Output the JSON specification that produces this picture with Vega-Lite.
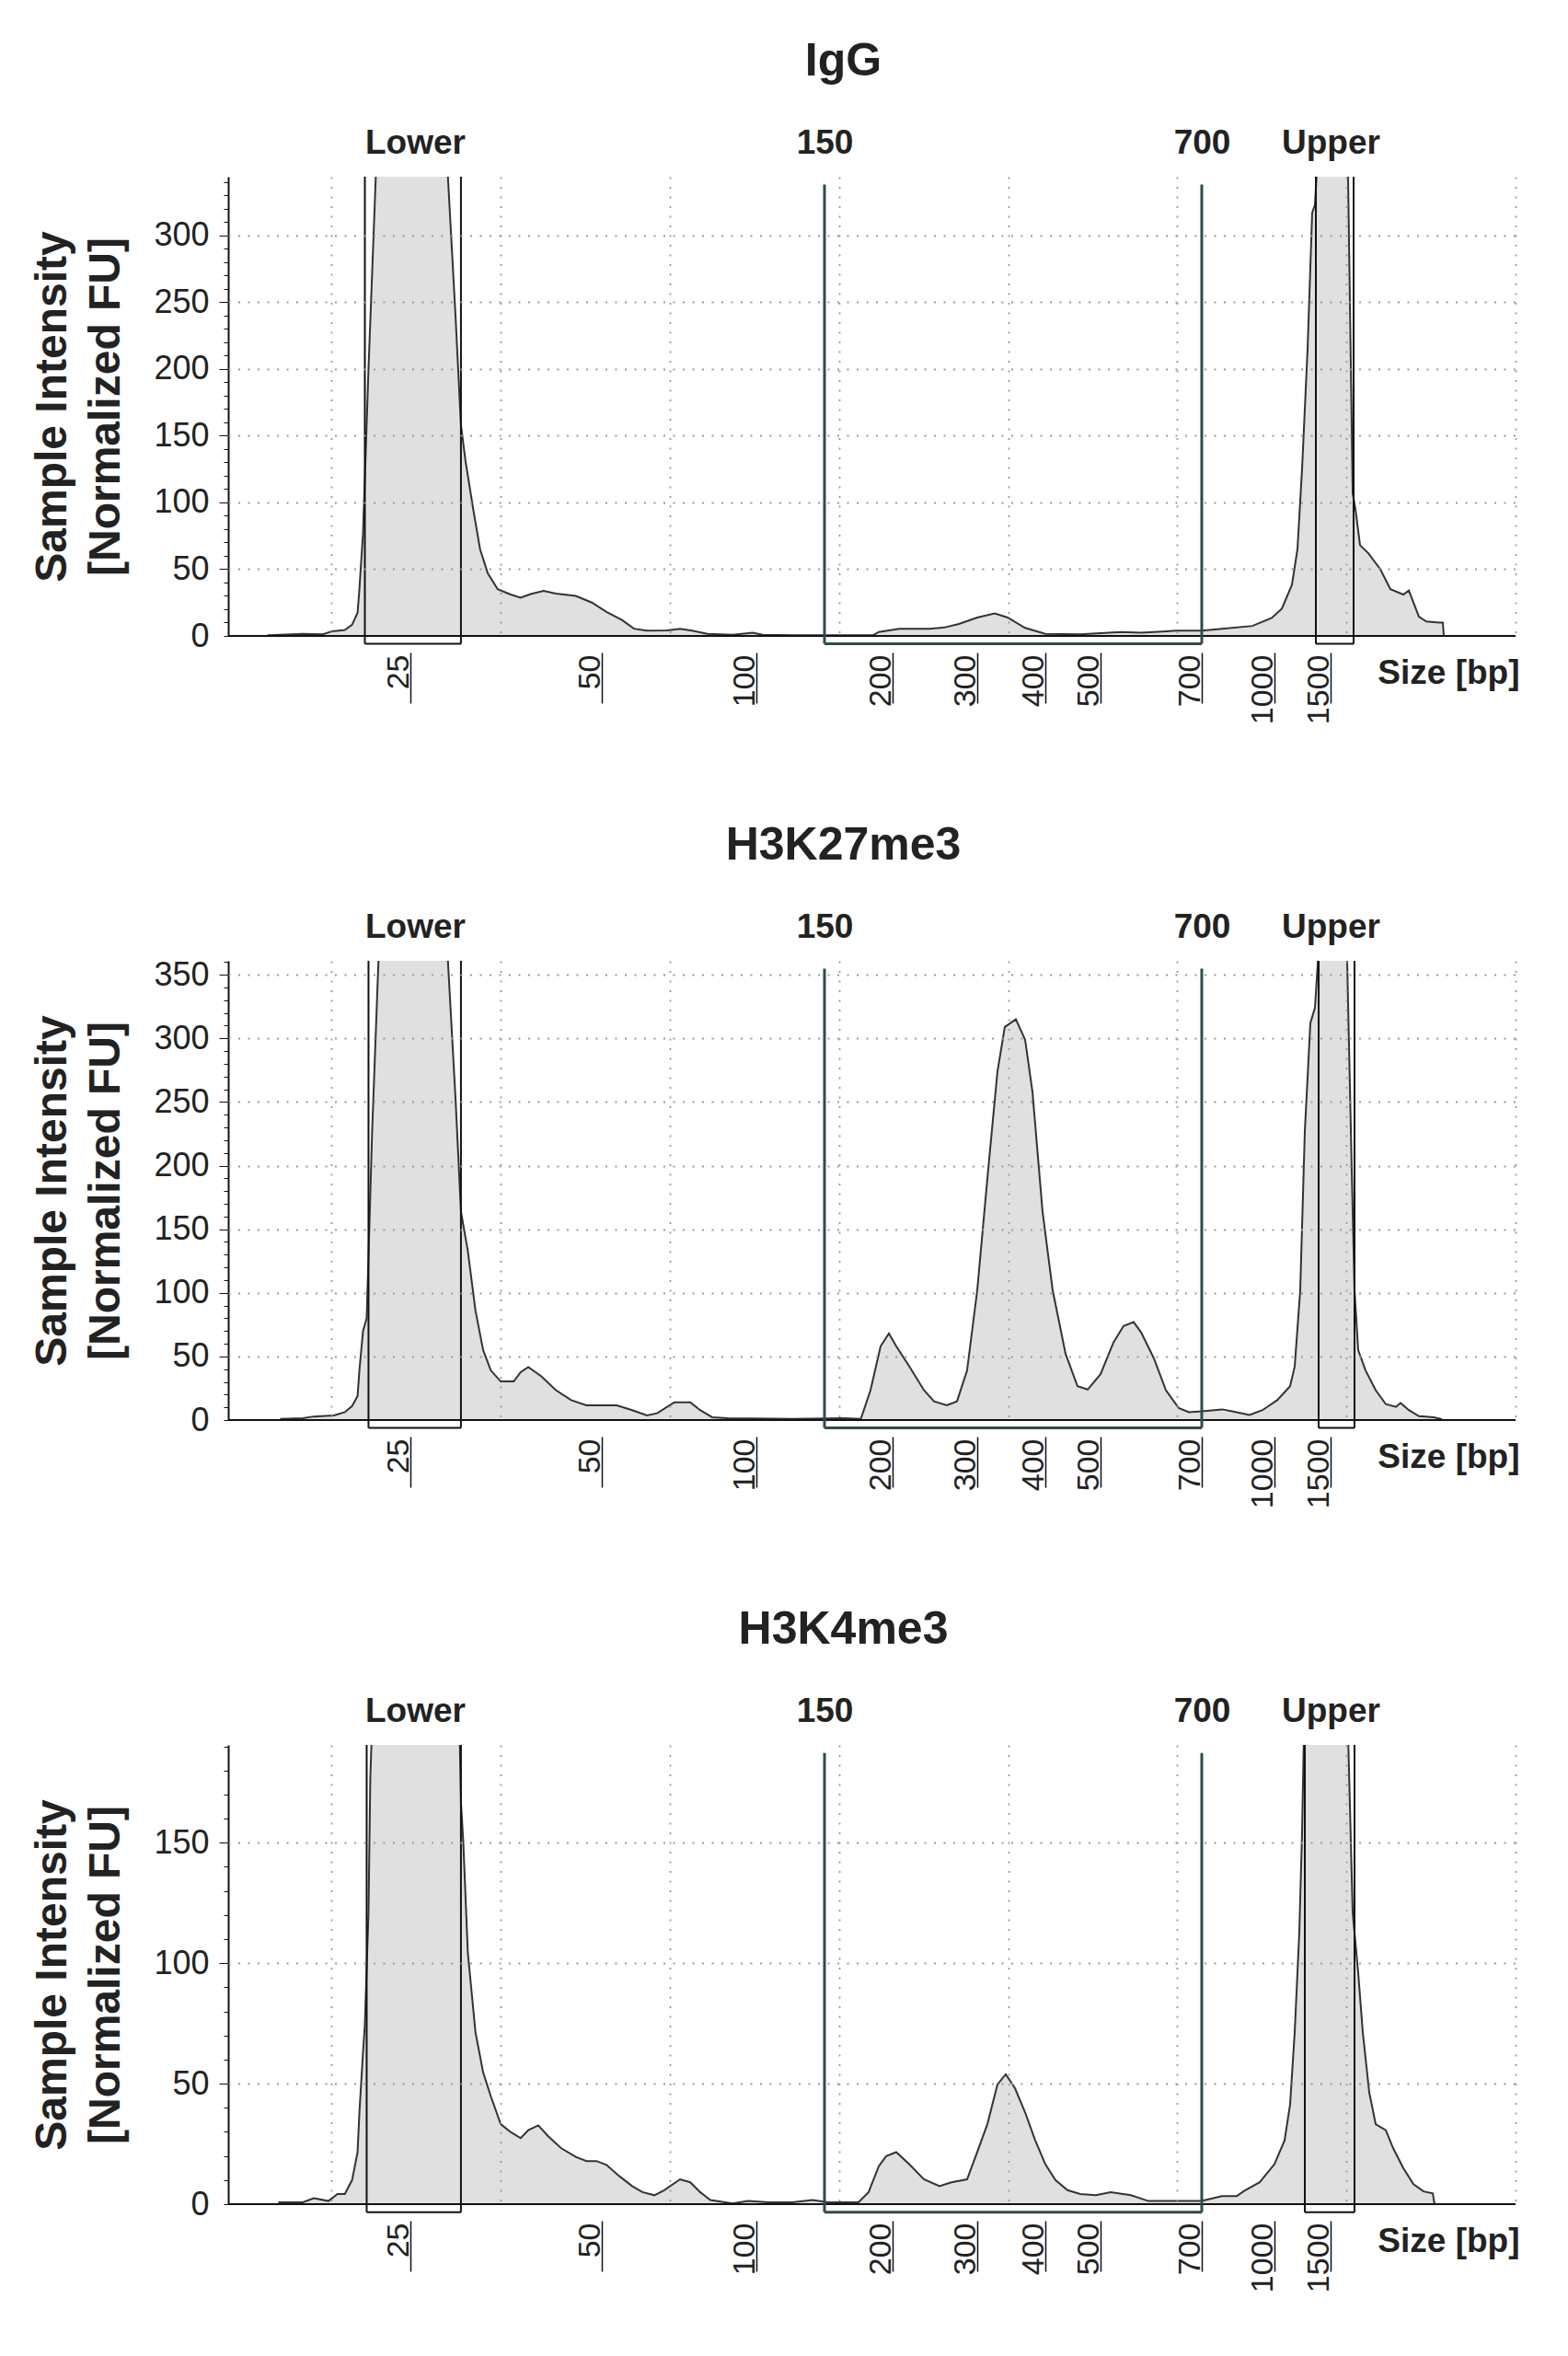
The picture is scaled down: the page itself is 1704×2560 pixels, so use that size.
{
  "$schema": "https://vega.github.io/schema/vega-lite/v6.json",
  "background": "white",
  "padding": {"left": 33, "top": 42, "right": 5, "bottom": 5},
  "datasets": {
    "igg": [
      {"size": 17.2, "fu": 0.6}, {"size": 19.1, "fu": 1.5}, {"size": 20.2, "fu": 1.2}, {"size": 20.7, "fu": 3.5},
      {"size": 21.4, "fu": 4.5}, {"size": 21.8, "fu": 8.4}, {"size": 22.1, "fu": 17.4}, {"size": 22.2, "fu": 35},
      {"size": 22.4, "fu": 77}, {"size": 22.7, "fu": 200}, {"size": 23.1, "fu": 344}, {"size": 24.6, "fu": 980},
      {"size": 29.9, "fu": 344}, {"size": 30.9, "fu": 239}, {"size": 31.6, "fu": 158}, {"size": 32.2, "fu": 131},
      {"size": 33.2, "fu": 95}, {"size": 34.1, "fu": 65}, {"size": 35.1, "fu": 47}, {"size": 36.4, "fu": 35},
      {"size": 38.1, "fu": 31}, {"size": 39.4, "fu": 28.7}, {"size": 40.7, "fu": 31.4}, {"size": 42.4, "fu": 33.8},
      {"size": 44.0, "fu": 31.7}, {"size": 46.6, "fu": 30}, {"size": 48.7, "fu": 25}, {"size": 51.5, "fu": 18},
      {"size": 56.5, "fu": 12}, {"size": 60.4, "fu": 5.4}, {"size": 64.6, "fu": 3.9}, {"size": 71.1, "fu": 4.2},
      {"size": 75.3, "fu": 5.4}, {"size": 79.2, "fu": 3.9}, {"size": 84.2, "fu": 1.5}, {"size": 92.3, "fu": 0.9},
      {"size": 98.8, "fu": 2.4}, {"size": 104.7, "fu": 0.9}, {"size": 126.4, "fu": 0.6}, {"size": 185.8, "fu": 0.6},
      {"size": 189.9, "fu": 3}, {"size": 207.6, "fu": 5.4}, {"size": 243.5, "fu": 5.4}, {"size": 260.9, "fu": 6.3},
      {"size": 278.3, "fu": 9}, {"size": 300, "fu": 13.8}, {"size": 325.7, "fu": 16.8}, {"size": 344.6, "fu": 13.8},
      {"size": 370.3, "fu": 6}, {"size": 400, "fu": 1.5}, {"size": 463.3, "fu": 1.2}, {"size": 540, "fu": 3},
      {"size": 580, "fu": 2.4}, {"size": 649.1, "fu": 3.9}, {"size": 700, "fu": 3.9}, {"size": 783.5, "fu": 5.4},
      {"size": 908.8, "fu": 7.5}, {"size": 988.6, "fu": 13.5}, {"size": 1065.6, "fu": 20.4}, {"size": 1155.7, "fu": 38.3},
      {"size": 1204.9, "fu": 65}, {"size": 1245.9, "fu": 125}, {"size": 1295.1, "fu": 215}, {"size": 1336.1, "fu": 317},
      {"size": 1360.7, "fu": 323}, {"size": 1385.3, "fu": 360}, {"size": 1552.2, "fu": 880}, {"size": 1641.8, "fu": 344},
      {"size": 1679.1, "fu": 107}, {"size": 1701.5, "fu": 95}, {"size": 1738.8, "fu": 68}, {"size": 1806, "fu": 62},
      {"size": 1903, "fu": 50}, {"size": 1985.1, "fu": 35}, {"size": 2089.6, "fu": 31}, {"size": 2134.4, "fu": 34},
      {"size": 2216.4, "fu": 14.4}, {"size": 2276.2, "fu": 10.8}, {"size": 2380.6, "fu": 10}, {"size": 2410.5, "fu": 10},
      {"size": 2418, "fu": 0}
    ],
    "k27": [
      {"size": 17.9, "fu": 0.9}, {"size": 19.1, "fu": 1.5}, {"size": 19.7, "fu": 2.8}, {"size": 20.8, "fu": 3.7},
      {"size": 21.4, "fu": 6.2}, {"size": 21.8, "fu": 11}, {"size": 22.1, "fu": 18.8}, {"size": 22.2, "fu": 39},
      {"size": 22.4, "fu": 70}, {"size": 22.6, "fu": 80}, {"size": 22.9, "fu": 227}, {"size": 23.2, "fu": 343},
      {"size": 23.3, "fu": 380}, {"size": 24.8, "fu": 1000}, {"size": 29.9, "fu": 361}, {"size": 30.9, "fu": 252},
      {"size": 31.6, "fu": 164}, {"size": 32.5, "fu": 133}, {"size": 33.5, "fu": 86}, {"size": 34.5, "fu": 55},
      {"size": 35.5, "fu": 39}, {"size": 36.8, "fu": 30.3}, {"size": 38.5, "fu": 30.3}, {"size": 39.4, "fu": 37.6},
      {"size": 40.4, "fu": 41.6}, {"size": 42.1, "fu": 34.4}, {"size": 44.0, "fu": 23.5}, {"size": 46.0, "fu": 15.6},
      {"size": 48.0, "fu": 11.6}, {"size": 54.8, "fu": 11.6}, {"size": 59.8, "fu": 7.8}, {"size": 64.6, "fu": 3.7},
      {"size": 67.9, "fu": 5.3}, {"size": 73.5, "fu": 14}, {"size": 78.6, "fu": 14}, {"size": 81.8, "fu": 7.8},
      {"size": 85.7, "fu": 2.2}, {"size": 90.8, "fu": 1.5}, {"size": 126.4, "fu": 0.9}, {"size": 163.5, "fu": 1.5},
      {"size": 176.7, "fu": 0.9}, {"size": 183.8, "fu": 23.5}, {"size": 191.2, "fu": 58}, {"size": 197.3, "fu": 68},
      {"size": 204.3, "fu": 58}, {"size": 219.6, "fu": 42.3}, {"size": 237, "fu": 23.5}, {"size": 248.9, "fu": 14.7},
      {"size": 264.1, "fu": 11.6}, {"size": 276.1, "fu": 14.7}, {"size": 288, "fu": 39}, {"size": 300, "fu": 102},
      {"size": 314.9, "fu": 190}, {"size": 329.7, "fu": 274}, {"size": 340.5, "fu": 309}, {"size": 356.7, "fu": 315},
      {"size": 370.3, "fu": 299}, {"size": 381.1, "fu": 258}, {"size": 395.9, "fu": 164}, {"size": 413.3, "fu": 102},
      {"size": 436.7, "fu": 52}, {"size": 458.3, "fu": 26.6}, {"size": 476.7, "fu": 24}, {"size": 500, "fu": 36},
      {"size": 525.5, "fu": 61}, {"size": 545.5, "fu": 74}, {"size": 565.4, "fu": 77}, {"size": 580, "fu": 69},
      {"size": 605.4, "fu": 48.5}, {"size": 629.1, "fu": 23.5}, {"size": 654.5, "fu": 9.4}, {"size": 674.5, "fu": 6.2},
      {"size": 700, "fu": 6.8}, {"size": 783.5, "fu": 8.4}, {"size": 825.3, "fu": 6.8}, {"size": 897.4, "fu": 4},
      {"size": 950.6, "fu": 7.8}, {"size": 1024.6, "fu": 15.6}, {"size": 1139.3, "fu": 26.6}, {"size": 1180.3, "fu": 42},
      {"size": 1229.5, "fu": 102}, {"size": 1270.5, "fu": 227}, {"size": 1319.7, "fu": 312}, {"size": 1360.7, "fu": 324},
      {"size": 1393.5, "fu": 370}, {"size": 1537.3, "fu": 900}, {"size": 1634.3, "fu": 361}, {"size": 1671.6, "fu": 196},
      {"size": 1694, "fu": 102}, {"size": 1723.9, "fu": 55}, {"size": 1783.6, "fu": 39}, {"size": 1865.7, "fu": 23.5},
      {"size": 1947.8, "fu": 12.5}, {"size": 2029.9, "fu": 10.3}, {"size": 2067.2, "fu": 13.4}, {"size": 2134.4, "fu": 7.8},
      {"size": 2216.4, "fu": 3}, {"size": 2335.9, "fu": 2.2}, {"size": 2395.6, "fu": 0.9}
    ],
    "k4": [
      {"size": 17.8, "fu": 0.8}, {"size": 19.1, "fu": 0.8}, {"size": 19.7, "fu": 2.5}, {"size": 20.5, "fu": 1.3},
      {"size": 21.0, "fu": 4.2}, {"size": 21.4, "fu": 4.2}, {"size": 21.8, "fu": 10}, {"size": 22.1, "fu": 21.6},
      {"size": 22.2, "fu": 38}, {"size": 22.4, "fu": 63}, {"size": 22.5, "fu": 74.6}, {"size": 22.7, "fu": 121},
      {"size": 22.8, "fu": 177}, {"size": 22.9, "fu": 200}, {"size": 25.0, "fu": 500}, {"size": 31.4, "fu": 200},
      {"size": 31.6, "fu": 167}, {"size": 31.9, "fu": 150.8}, {"size": 32.5, "fu": 104.4}, {"size": 33.5, "fu": 71.3},
      {"size": 34.5, "fu": 54.7}, {"size": 35.5, "fu": 44.8}, {"size": 36.8, "fu": 33.2}, {"size": 38.1, "fu": 29.9},
      {"size": 39.4, "fu": 27.4}, {"size": 40.4, "fu": 30.7}, {"size": 41.7, "fu": 32.7}, {"size": 43.0, "fu": 28.2},
      {"size": 44.7, "fu": 23.2}, {"size": 46.6, "fu": 19.6}, {"size": 48.0, "fu": 17.9}, {"size": 49.3, "fu": 17.9},
      {"size": 51.5, "fu": 16.3}, {"size": 55.7, "fu": 11.6}, {"size": 59.8, "fu": 7.5}, {"size": 63.1, "fu": 5},
      {"size": 67.0, "fu": 3.7}, {"size": 70.2, "fu": 5.8}, {"size": 75.3, "fu": 10.3}, {"size": 78.6, "fu": 9.1},
      {"size": 81.8, "fu": 5}, {"size": 85.1, "fu": 1.7}, {"size": 92.3, "fu": 0.3}, {"size": 97.3, "fu": 1.3},
      {"size": 108.8, "fu": 0.8}, {"size": 126.4, "fu": 0.8}, {"size": 141.2, "fu": 1.7}, {"size": 152.7, "fu": 0.8},
      {"size": 175, "fu": 0.8}, {"size": 182.4, "fu": 5}, {"size": 189.9, "fu": 15.8}, {"size": 195.3, "fu": 19.9},
      {"size": 204.3, "fu": 21.6}, {"size": 219.6, "fu": 16.6}, {"size": 237, "fu": 10.3}, {"size": 255.4, "fu": 7.5},
      {"size": 269.6, "fu": 9.1}, {"size": 288, "fu": 10.3}, {"size": 300, "fu": 21.6}, {"size": 314.9, "fu": 33.2},
      {"size": 329.7, "fu": 49.7}, {"size": 341.9, "fu": 53.9}, {"size": 355.4, "fu": 48.1}, {"size": 370.3, "fu": 38.1},
      {"size": 385.1, "fu": 26.5}, {"size": 400, "fu": 16.6}, {"size": 418.3, "fu": 10}, {"size": 440, "fu": 5.8},
      {"size": 463.3, "fu": 4.2}, {"size": 491.7, "fu": 3.7}, {"size": 520, "fu": 5}, {"size": 560, "fu": 3.7},
      {"size": 594.5, "fu": 1.3}, {"size": 640, "fu": 1.3}, {"size": 700, "fu": 1.3}, {"size": 783.5, "fu": 3.3},
      {"size": 844.3, "fu": 3.3}, {"size": 874.7, "fu": 5.5}, {"size": 939.2, "fu": 9.1}, {"size": 1000, "fu": 16.6},
      {"size": 1090.2, "fu": 26.5}, {"size": 1139.3, "fu": 41.4}, {"size": 1180.3, "fu": 71.3}, {"size": 1221.3, "fu": 112.7},
      {"size": 1245.9, "fu": 154}, {"size": 1262.3, "fu": 195}, {"size": 1459, "fu": 500}, {"size": 1641.8, "fu": 195},
      {"size": 1679.1, "fu": 121}, {"size": 1723.9, "fu": 96}, {"size": 1761.2, "fu": 71.3}, {"size": 1813.4, "fu": 46.4},
      {"size": 1865.7, "fu": 33.2}, {"size": 1947.8, "fu": 30.7}, {"size": 2007.5, "fu": 23.2}, {"size": 2089.6, "fu": 15},
      {"size": 2171.7, "fu": 8.3}, {"size": 2253.8, "fu": 5.3}, {"size": 2328.4, "fu": 4.5}, {"size": 2343.3, "fu": 0}
    ],
    "region": [{"start": 150, "end": 700}],
    "igg_markers": [{"marker": "Lower", "lo": 22.5, "hi": 31.6}, {"marker": "Upper", "lo": 1368.9, "hi": 1686.6}],
    "k27_markers": [{"marker": "Lower", "lo": 22.7, "hi": 31.6}, {"marker": "Upper", "lo": 1393.5, "hi": 1694}],
    "k4_markers": [{"marker": "Lower", "lo": 22.6, "hi": 31.6}, {"marker": "Upper", "lo": 1270.5, "hi": 1694}]
  },
  "vconcat": [
    {
      "title": {"text": "IgG", "font": "Liberation Sans", "fontSize": 50, "fontWeight": "bold", "color": "#222", "anchor": "middle", "dx": -31, "offset": 44},
      "width": 1399,
      "height": 499,
      "resolve": {"axis": {"x": "independent", "y": "independent"}},
      "layer": [
        {
          "data": {"name": "igg"},
          "mark": {"type": "area", "fill": "#e0e0e0", "stroke": "#333333", "strokeWidth": 2, "clip": true},
          "encoding": {
            "x": {"field": "size", "type": "quantitative", "title": "Size [bp]",
              "scale": {"domain": [15, 25, 50, 100, 150, 200, 300, 400, 500, 700, 1000, 1500, 3000], "range": [0, 198, 406, 574, 648, 722, 814, 888, 948, 1058, 1137, 1198, 1399], "nice": false, "zero": false},
              "axis": {"orient": "bottom", "values": [25, 50, 100, 200, 300, 400, 500, 700, 1000, 1500], "format": "d", "offset": 18, "domain": false, "grid": false, "ticks": true, "tickSize": 55, "tickColor": "#111", "tickWidth": 1.5, "labelAngle": 270, "labelAlign": "right", "labelBaseline": "alphabetic", "labelPadding": -53, "labelOffset": -3, "labelFont": "Liberation Sans", "labelFontSize": 34, "labelColor": "#222", "labelOverlap": false, "labelFlush": false, "titleFont": "Liberation Sans", "titleFontSize": 37, "titleFontWeight": "bold", "titleColor": "#222", "titleX": 1403, "titleY": 22, "titleAlign": "right", "titleBaseline": "middle", "titleAngle": 0}},
            "y": {"field": "fu", "type": "quantitative", "title": "Sample Intensity",
              "scale": {"domain": [0, 344], "nice": false, "zero": false},
              "axis": {"orient": "left", "title": "Sample Intensity\n[Normalized FU]", "values": [0, 10, 20, 30, 40, 50, 60, 70, 80, 90, 100, 110, 120, 130, 140, 150, 160, 170, 180, 190, 200, 210, 220, 230, 240, 250, 260, 270, 280, 290, 300, 310, 320, 330, 340], "labelExpr": "datum.value % 50 === 0 ? datum.label : ''", "tickSize": 5, "tickColor": "#111", "domainColor": "#111", "domainWidth": 2, "grid": false, "labelFont": "Liberation Sans", "labelFontSize": 36, "labelColor": "#222", "labelPadding": 16, "labelOverlap": false, "labelFlush": false, "titleFont": "Liberation Sans", "titleFontSize": 48, "titleFontWeight": "bold", "titleColor": "#222", "titleLineHeight": 58, "titlePadding": 27}}
          }
        },
        {
          "data": {"values": [{}]},
          "mark": {"type": "rule", "color": "#111", "strokeWidth": 2},
          "encoding": {"y": {"datum": 0, "type": "quantitative", "scale": {"domain": [0, 344], "nice": false, "zero": false},
            "axis": {"orient": "left", "title": null, "values": [50, 100, 150, 200, 250, 300], "labels": false, "domain": false, "ticks": true, "tickSize": 10, "tickColor": "#111", "grid": true, "gridColor": "#9a9a9a", "gridDash": [2, 8.5], "gridWidth": 1.8, "zindex": 1}}}
        },
        {
          "data": {"name": "region"},
          "mark": {"type": "rule", "color": "#2e4b4b", "strokeWidth": 3},
          "encoding": {
            "x": {"field": "start", "type": "quantitative",
              "scale": {"domain": [15, 25, 50, 100, 150, 200, 300, 400, 500, 700, 1000, 1500, 3000], "range": [0, 198, 406, 574, 648, 722, 814, 888, 948, 1058, 1137, 1198, 1399], "nice": false, "zero": false},
              "axis": {"orient": "top", "title": null, "values": [25.6, 150, 700, 1500], "labelExpr": "datum.value === 150 ? '150' : datum.value === 700 ? '700' : datum.value < 100 ? 'Lower' : 'Upper'", "domain": false, "ticks": false, "tickSize": 0, "grid": false, "labelPadding": 26, "labelAngle": 0, "labelAlign": "center", "labelBaseline": "alphabetic", "labelFont": "Liberation Sans", "labelFontSize": 37, "labelFontWeight": "bold", "labelColor": "#222", "labelOverlap": false, "labelFlush": false}},
            "y": {"datum": -5.8, "type": "quantitative", "scale": {"domain": [0, 344], "nice": false, "zero": false}, "axis": null},
            "y2": {"datum": 338.1}
          }
        },
        {
          "data": {"name": "region"},
          "mark": {"type": "rule", "color": "#2e4b4b", "strokeWidth": 3},
          "encoding": {
            "x": {"field": "end", "type": "quantitative", "axis": null},
            "y": {"datum": -5.8, "type": "quantitative", "axis": null},
            "y2": {"datum": 338.1}
          }
        },
        {
          "data": {"name": "region"},
          "mark": {"type": "rule", "color": "#2e4b4b", "strokeWidth": 3},
          "encoding": {
            "x": {"field": "start", "type": "quantitative", "axis": null},
            "x2": {"field": "end"},
            "y": {"datum": -5.8, "type": "quantitative", "axis": null}
          }
        },
        {
          "data": {"name": "igg_markers"},
          "mark": {"type": "rule", "color": "#111", "strokeWidth": 2},
          "encoding": {
            "x": {"field": "lo", "type": "quantitative",
              "axis": {"orient": "bottom", "title": null, "values": [20.66, 36.78, 72.02, 160.81, 345.93, 650.9, 1626.9, 3000], "labels": false, "ticks": false, "domain": false, "grid": true, "gridColor": "#9a9a9a", "gridDash": [2, 8.5], "gridWidth": 1.8, "zindex": 1}},
            "y": {"datum": -5.8, "type": "quantitative", "axis": null},
            "y2": {"datum": 344}
          }
        },
        {
          "data": {"name": "igg_markers"},
          "mark": {"type": "rule", "color": "#111", "strokeWidth": 2},
          "encoding": {
            "x": {"field": "hi", "type": "quantitative", "axis": null},
            "y": {"datum": -5.8, "type": "quantitative", "axis": null},
            "y2": {"datum": 344}
          }
        },
        {
          "data": {"name": "igg_markers"},
          "mark": {"type": "rule", "color": "#111", "strokeWidth": 2},
          "encoding": {
            "x": {"field": "lo", "type": "quantitative", "axis": null},
            "x2": {"field": "hi"},
            "y": {"datum": -5.8, "type": "quantitative", "axis": null}
          }
        }
      ]
    },
    {
      "title": {"text": "H3K27me3", "font": "Liberation Sans", "fontSize": 50, "fontWeight": "bold", "color": "#222", "anchor": "middle", "dx": -31, "offset": 44},
      "width": 1399,
      "height": 499,
      "resolve": {"axis": {"x": "independent", "y": "independent"}},
      "layer": [
        {
          "data": {"name": "k27"},
          "mark": {"type": "area", "fill": "#e0e0e0", "stroke": "#333333", "strokeWidth": 2, "clip": true},
          "encoding": {
            "x": {"field": "size", "type": "quantitative", "title": "Size [bp]",
              "scale": {"domain": [15, 25, 50, 100, 150, 200, 300, 400, 500, 700, 1000, 1500, 3000], "range": [0, 198, 406, 574, 648, 722, 814, 888, 948, 1058, 1137, 1198, 1399], "nice": false, "zero": false},
              "axis": {"orient": "bottom", "values": [25, 50, 100, 200, 300, 400, 500, 700, 1000, 1500], "format": "d", "offset": 18, "domain": false, "grid": false, "ticks": true, "tickSize": 55, "tickColor": "#111", "tickWidth": 1.5, "labelAngle": 270, "labelAlign": "right", "labelBaseline": "alphabetic", "labelPadding": -53, "labelOffset": -3, "labelFont": "Liberation Sans", "labelFontSize": 34, "labelColor": "#222", "labelOverlap": false, "labelFlush": false, "titleFont": "Liberation Sans", "titleFontSize": 37, "titleFontWeight": "bold", "titleColor": "#222", "titleX": 1403, "titleY": 22, "titleAlign": "right", "titleBaseline": "middle", "titleAngle": 0}},
            "y": {"field": "fu", "type": "quantitative", "title": "Sample Intensity",
              "scale": {"domain": [0, 361], "nice": false, "zero": false},
              "axis": {"orient": "left", "title": "Sample Intensity\n[Normalized FU]", "values": [0, 10, 20, 30, 40, 50, 60, 70, 80, 90, 100, 110, 120, 130, 140, 150, 160, 170, 180, 190, 200, 210, 220, 230, 240, 250, 260, 270, 280, 290, 300, 310, 320, 330, 340, 350, 360], "labelExpr": "datum.value % 50 === 0 ? datum.label : ''", "tickSize": 5, "tickColor": "#111", "domainColor": "#111", "domainWidth": 2, "grid": false, "labelFont": "Liberation Sans", "labelFontSize": 36, "labelColor": "#222", "labelPadding": 16, "labelOverlap": false, "labelFlush": false, "titleFont": "Liberation Sans", "titleFontSize": 48, "titleFontWeight": "bold", "titleColor": "#222", "titleLineHeight": 58, "titlePadding": 27}}
          }
        },
        {
          "data": {"values": [{}]},
          "mark": {"type": "rule", "color": "#111", "strokeWidth": 2},
          "encoding": {"y": {"datum": 0, "type": "quantitative", "scale": {"domain": [0, 361], "nice": false, "zero": false},
            "axis": {"orient": "left", "title": null, "values": [50, 100, 150, 200, 250, 300, 350], "labels": false, "domain": false, "ticks": true, "tickSize": 10, "tickColor": "#111", "grid": true, "gridColor": "#9a9a9a", "gridDash": [2, 8.5], "gridWidth": 1.8, "zindex": 1}}}
        },
        {
          "data": {"name": "region"},
          "mark": {"type": "rule", "color": "#2e4b4b", "strokeWidth": 3},
          "encoding": {
            "x": {"field": "start", "type": "quantitative",
              "scale": {"domain": [15, 25, 50, 100, 150, 200, 300, 400, 500, 700, 1000, 1500, 3000], "range": [0, 198, 406, 574, 648, 722, 814, 888, 948, 1058, 1137, 1198, 1399], "nice": false, "zero": false},
              "axis": {"orient": "top", "title": null, "values": [25.6, 150, 700, 1500], "labelExpr": "datum.value === 150 ? '150' : datum.value === 700 ? '700' : datum.value < 100 ? 'Lower' : 'Upper'", "domain": false, "ticks": false, "tickSize": 0, "grid": false, "labelPadding": 26, "labelAngle": 0, "labelAlign": "center", "labelBaseline": "alphabetic", "labelFont": "Liberation Sans", "labelFontSize": 37, "labelFontWeight": "bold", "labelColor": "#222", "labelOverlap": false, "labelFlush": false}},
            "y": {"datum": -6.1, "type": "quantitative", "scale": {"domain": [0, 361], "nice": false, "zero": false}, "axis": null},
            "y2": {"datum": 354.9}
          }
        },
        {
          "data": {"name": "region"},
          "mark": {"type": "rule", "color": "#2e4b4b", "strokeWidth": 3},
          "encoding": {
            "x": {"field": "end", "type": "quantitative", "axis": null},
            "y": {"datum": -6.1, "type": "quantitative", "axis": null},
            "y2": {"datum": 354.9}
          }
        },
        {
          "data": {"name": "region"},
          "mark": {"type": "rule", "color": "#2e4b4b", "strokeWidth": 3},
          "encoding": {
            "x": {"field": "start", "type": "quantitative", "axis": null},
            "x2": {"field": "end"},
            "y": {"datum": -6.1, "type": "quantitative", "axis": null}
          }
        },
        {
          "data": {"name": "k27_markers"},
          "mark": {"type": "rule", "color": "#111", "strokeWidth": 2},
          "encoding": {
            "x": {"field": "lo", "type": "quantitative",
              "axis": {"orient": "bottom", "title": null, "values": [20.66, 36.78, 72.02, 160.81, 345.93, 650.9, 1626.9, 3000], "labels": false, "ticks": false, "domain": false, "grid": true, "gridColor": "#9a9a9a", "gridDash": [2, 8.5], "gridWidth": 1.8, "zindex": 1}},
            "y": {"datum": -6.1, "type": "quantitative", "axis": null},
            "y2": {"datum": 361}
          }
        },
        {
          "data": {"name": "k27_markers"},
          "mark": {"type": "rule", "color": "#111", "strokeWidth": 2},
          "encoding": {
            "x": {"field": "hi", "type": "quantitative", "axis": null},
            "y": {"datum": -6.1, "type": "quantitative", "axis": null},
            "y2": {"datum": 361}
          }
        },
        {
          "data": {"name": "k27_markers"},
          "mark": {"type": "rule", "color": "#111", "strokeWidth": 2},
          "encoding": {
            "x": {"field": "lo", "type": "quantitative", "axis": null},
            "x2": {"field": "hi"},
            "y": {"datum": -6.1, "type": "quantitative", "axis": null}
          }
        }
      ]
    },
    {
      "title": {"text": "H3K4me3", "font": "Liberation Sans", "fontSize": 50, "fontWeight": "bold", "color": "#222", "anchor": "middle", "dx": -31, "offset": 44},
      "width": 1399,
      "height": 499,
      "resolve": {"axis": {"x": "independent", "y": "independent"}},
      "layer": [
        {
          "data": {"name": "k4"},
          "mark": {"type": "area", "fill": "#e0e0e0", "stroke": "#333333", "strokeWidth": 2, "clip": true},
          "encoding": {
            "x": {"field": "size", "type": "quantitative", "title": "Size [bp]",
              "scale": {"domain": [15, 25, 50, 100, 150, 200, 300, 400, 500, 700, 1000, 1500, 3000], "range": [0, 198, 406, 574, 648, 722, 814, 888, 948, 1058, 1137, 1198, 1399], "nice": false, "zero": false},
              "axis": {"orient": "bottom", "values": [25, 50, 100, 200, 300, 400, 500, 700, 1000, 1500], "format": "d", "offset": 18, "domain": false, "grid": false, "ticks": true, "tickSize": 55, "tickColor": "#111", "tickWidth": 1.5, "labelAngle": 270, "labelAlign": "right", "labelBaseline": "alphabetic", "labelPadding": -53, "labelOffset": -3, "labelFont": "Liberation Sans", "labelFontSize": 34, "labelColor": "#222", "labelOverlap": false, "labelFlush": false, "titleFont": "Liberation Sans", "titleFontSize": 37, "titleFontWeight": "bold", "titleColor": "#222", "titleX": 1403, "titleY": 22, "titleAlign": "right", "titleBaseline": "middle", "titleAngle": 0}},
            "y": {"field": "fu", "type": "quantitative", "title": "Sample Intensity",
              "scale": {"domain": [0, 190.6], "nice": false, "zero": false},
              "axis": {"orient": "left", "title": "Sample Intensity\n[Normalized FU]", "values": [0, 10, 20, 30, 40, 50, 60, 70, 80, 90, 100, 110, 120, 130, 140, 150, 160, 170, 180, 190], "labelExpr": "datum.value % 50 === 0 ? datum.label : ''", "tickSize": 5, "tickColor": "#111", "domainColor": "#111", "domainWidth": 2, "grid": false, "labelFont": "Liberation Sans", "labelFontSize": 36, "labelColor": "#222", "labelPadding": 16, "labelOverlap": false, "labelFlush": false, "titleFont": "Liberation Sans", "titleFontSize": 48, "titleFontWeight": "bold", "titleColor": "#222", "titleLineHeight": 58, "titlePadding": 27}}
          }
        },
        {
          "data": {"values": [{}]},
          "mark": {"type": "rule", "color": "#111", "strokeWidth": 2},
          "encoding": {"y": {"datum": 0, "type": "quantitative", "scale": {"domain": [0, 190.6], "nice": false, "zero": false},
            "axis": {"orient": "left", "title": null, "values": [50, 100, 150], "labels": false, "domain": false, "ticks": true, "tickSize": 10, "tickColor": "#111", "grid": true, "gridColor": "#9a9a9a", "gridDash": [2, 8.5], "gridWidth": 1.8, "zindex": 1}}}
        },
        {
          "data": {"name": "region"},
          "mark": {"type": "rule", "color": "#2e4b4b", "strokeWidth": 3},
          "encoding": {
            "x": {"field": "start", "type": "quantitative",
              "scale": {"domain": [15, 25, 50, 100, 150, 200, 300, 400, 500, 700, 1000, 1500, 3000], "range": [0, 198, 406, 574, 648, 722, 814, 888, 948, 1058, 1137, 1198, 1399], "nice": false, "zero": false},
              "axis": {"orient": "top", "title": null, "values": [25.6, 150, 700, 1500], "labelExpr": "datum.value === 150 ? '150' : datum.value === 700 ? '700' : datum.value < 100 ? 'Lower' : 'Upper'", "domain": false, "ticks": false, "tickSize": 0, "grid": false, "labelPadding": 26, "labelAngle": 0, "labelAlign": "center", "labelBaseline": "alphabetic", "labelFont": "Liberation Sans", "labelFontSize": 37, "labelFontWeight": "bold", "labelColor": "#222", "labelOverlap": false, "labelFlush": false}},
            "y": {"datum": -3.3, "type": "quantitative", "scale": {"domain": [0, 190.6], "nice": false, "zero": false}, "axis": null},
            "y2": {"datum": 187.3}
          }
        },
        {
          "data": {"name": "region"},
          "mark": {"type": "rule", "color": "#2e4b4b", "strokeWidth": 3},
          "encoding": {
            "x": {"field": "end", "type": "quantitative", "axis": null},
            "y": {"datum": -3.3, "type": "quantitative", "axis": null},
            "y2": {"datum": 187.3}
          }
        },
        {
          "data": {"name": "region"},
          "mark": {"type": "rule", "color": "#2e4b4b", "strokeWidth": 3},
          "encoding": {
            "x": {"field": "start", "type": "quantitative", "axis": null},
            "x2": {"field": "end"},
            "y": {"datum": -3.3, "type": "quantitative", "axis": null}
          }
        },
        {
          "data": {"name": "k4_markers"},
          "mark": {"type": "rule", "color": "#111", "strokeWidth": 2},
          "encoding": {
            "x": {"field": "lo", "type": "quantitative",
              "axis": {"orient": "bottom", "title": null, "values": [20.66, 36.78, 72.02, 160.81, 345.93, 650.9, 1626.9, 3000], "labels": false, "ticks": false, "domain": false, "grid": true, "gridColor": "#9a9a9a", "gridDash": [2, 8.5], "gridWidth": 1.8, "zindex": 1}},
            "y": {"datum": -3.3, "type": "quantitative", "axis": null},
            "y2": {"datum": 190.6}
          }
        },
        {
          "data": {"name": "k4_markers"},
          "mark": {"type": "rule", "color": "#111", "strokeWidth": 2},
          "encoding": {
            "x": {"field": "hi", "type": "quantitative", "axis": null},
            "y": {"datum": -3.3, "type": "quantitative", "axis": null},
            "y2": {"datum": 190.6}
          }
        },
        {
          "data": {"name": "k4_markers"},
          "mark": {"type": "rule", "color": "#111", "strokeWidth": 2},
          "encoding": {
            "x": {"field": "lo", "type": "quantitative", "axis": null},
            "x2": {"field": "hi"},
            "y": {"datum": -3.3, "type": "quantitative", "axis": null}
          }
        }
      ]
    }
  ],
  "spacing": 107,
  "config": {
    "view": {"stroke": null},
    "font": "Liberation Sans",
    "lineBreak": "\n"
  }
}
